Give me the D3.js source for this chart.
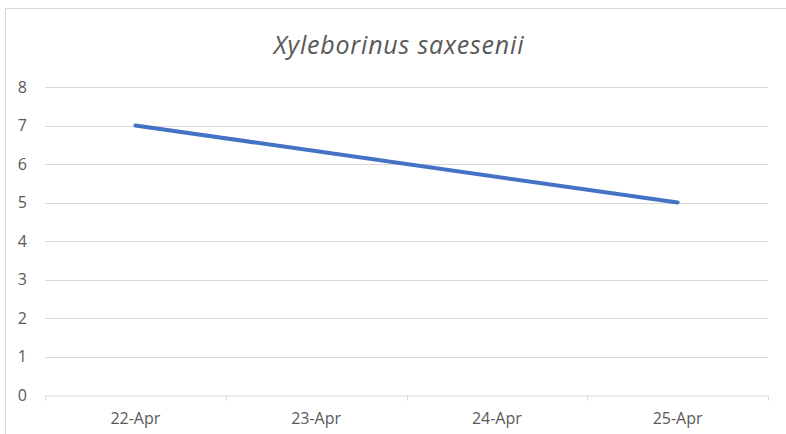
<!DOCTYPE html>
<html>
<head>
<meta charset="utf-8">
<script src="https://cdn.jsdelivr.net/npm/d3@7"></script>
<style>
  body { margin: 0; background: #fff; }
  svg text { font-family: "Open Sans", "Noto Sans", sans-serif; fill: #595959; }
</style>
</head>
<body>
<div id="chart"></div>
<script>
// chart data (only first and last day recorded, Excel joins the gap)
var dates = ["22-Apr", "23-Apr", "24-Apr", "25-Apr"];
var counts = [7, null, null, 5];
var yTicks = [0, 1, 2, 3, 4, 5, 6, 7, 8];
var chartTitle = "Xyleborinus saxesenii";

var width = 786, height = 434;
var margin = {top: 87, right: 18, bottom: 39, left: 45};

var svg = d3.select("#chart").append("svg")
    .attr("width", width)
    .attr("height", height);

// outer frame
svg.append("rect")
    .attr("x", 5.5).attr("y", 8.5)
    .attr("width", 800).attr("height", 500)
    .attr("fill", "none")
    .attr("stroke", "#d9d9d9");

var x = d3.scaleBand()
    .domain(dates)
    .range([margin.left, width - margin.right]);

var y = d3.scaleLinear()
    .domain([0, 8])
    .range([height - margin.bottom, margin.top]);

// gridlines
svg.append("g")
    .selectAll("line")
    .data(yTicks.slice(1))
    .enter()
    .append("line")
        .attr("x1", margin.left)
        .attr("x2", width - margin.right)
        .attr("y1", function(d) { return Math.round(y(d)) + 0.5; })
        .attr("y2", function(d) { return Math.round(y(d)) + 0.5; })
        .attr("stroke", "#d9d9d9")
        .attr("stroke-width", 1);

// y labels
svg.append("g")
    .selectAll("text")
    .data(yTicks)
    .enter()
    .append("text")
        .attr("x", 27)
        .attr("y", function(d) { return y(d); })
        .attr("dy", "0.35em")
        .style("text-anchor", "end")
        .style("font-size", "16px")
        .text(function(d) { return d; });

// x axis baseline
var gx = svg.append("g")
    .attr("transform", "translate(0," + (Math.round(y(0)) + 0.5) + ")")
    .call(d3.axisBottom(x).tickSize(0).tickFormat(""));
gx.select(".domain").attr("stroke", "#d9d9d9");

// tick marks at category boundaries
var bounds = dates.map(function(d) { return x(d); }).concat([x.range()[1]]);
gx.selectAll(".bound")
    .data(bounds)
    .enter()
    .append("line")
        .attr("class", "bound")
        .attr("x1", function(d) { return Math.round(d) + 0.5; })
        .attr("x2", function(d) { return Math.round(d) + 0.5; })
        .attr("y1", 0).attr("y2", 5)
        .attr("stroke", "#d9d9d9");

svg.append("g")
    .selectAll("text")
    .data(dates)
    .enter()
    .append("text")
        .attr("x", function(d) { return x(d) + x.bandwidth() / 2; })
        .attr("y", 418)
        .attr("dy", "0.35em")
        .style("text-anchor", "middle")
        .style("font-size", "16px")
        .text(function(d) { return d; });

// line through recorded points
var pts = dates.map(function(d, i) { return {date: d, v: counts[i]}; })
    .filter(function(d) { return d.v != null; });

svg.append("path")
    .datum(pts)
    .attr("d", d3.line()
        .x(function(d) { return x(d.date) + x.bandwidth() / 2; })
        .y(function(d) { return y(d.v); }))
    .attr("fill", "none")
    .attr("stroke", "#4472c4")
    .attr("stroke-width", 4)
    .attr("stroke-linecap", "round");

// title
svg.append("text")
    .attr("x", 399)
    .attr("y", 45)
    .attr("dy", "0.35em")
    .style("text-anchor", "middle")
    .style("font-size", "25px")
    .style("letter-spacing", "0.8px")
    .style("font-style", "italic")
    .text(chartTitle);
</script>
</body>
</html>
